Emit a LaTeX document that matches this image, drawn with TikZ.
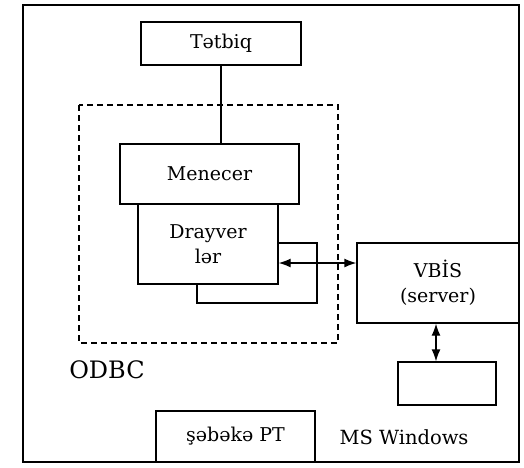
\documentclass[tikz,border=0pt]{standalone}
\usepackage{fontspec}
\setmainfont{DejaVu Serif}
\usetikzlibrary{arrows.meta}
\tikzset{
  blok/.style={draw, line width=1.3pt, fill=white, inner sep=0pt, align=center,
    font=\fontsize{19}{25}\selectfont},
  ox/.style={{Latex[length=12pt,width=9pt]}-{Latex[length=12pt,width=9pt]}, line width=1.3pt}
}
\begin{document}
\begin{tikzpicture}[x=1pt,y=-1pt]
        \useasboundingbox (0,0) rectangle (524,467);
        %% outer frame and ODBC area
        \draw[line width=1.6pt] (23,5) rectangle (519,462);
        \draw[dashed, line width=1.1pt, dash pattern=on 6pt off 4pt] (79,105) rectangle (338,343);
        \node[font=\fontsize{24}{26}\selectfont] (odbc) at (107,370) {ODBC};
        %% application and manager
        \node[blok, minimum width=160pt, minimum height=43pt] (tetbiq) at (221,43.5) {Tətbiq};
        \node[blok, minimum width=179pt, minimum height=60pt] (menecer) at (209.5,174) {Menecer};
        %% drivers
        \node[blok, minimum width=120pt, minimum height=60pt] (drv2) at (257,273) {};
        \node[blok, minimum width=140pt, minimum height=80pt] (drayver) at (208,244) {Drayver\\lər};
        %% server side
        \node[blok, minimum width=162pt, minimum height=80pt] (vbis) at (438,283) {VBİS\\(server)};
        \node[blok, minimum width=98pt, minimum height=43pt] (baza) at (447,383.5) {};
        \node[blok, minimum width=159pt, minimum height=51pt] (sebeke) at (235.5,436.5) {şəbəkə PT};
        \node[font=\fontsize{19.5}{22}\selectfont] (win) at (404,437) {MS Windows};
        %% links
        \draw[line width=1.3pt] (tetbiq.south) -- (tetbiq.south |- menecer.north);
        \coordinate (d1) at ([yshift=-19pt]drayver.east);
        \draw[ox] (d1) -- (d1 -| vbis.west);
        \draw[ox] ([xshift=-2pt]vbis.south) -- ([xshift=-2pt]vbis.south |- baza.north);
\end{tikzpicture}
\end{document}
